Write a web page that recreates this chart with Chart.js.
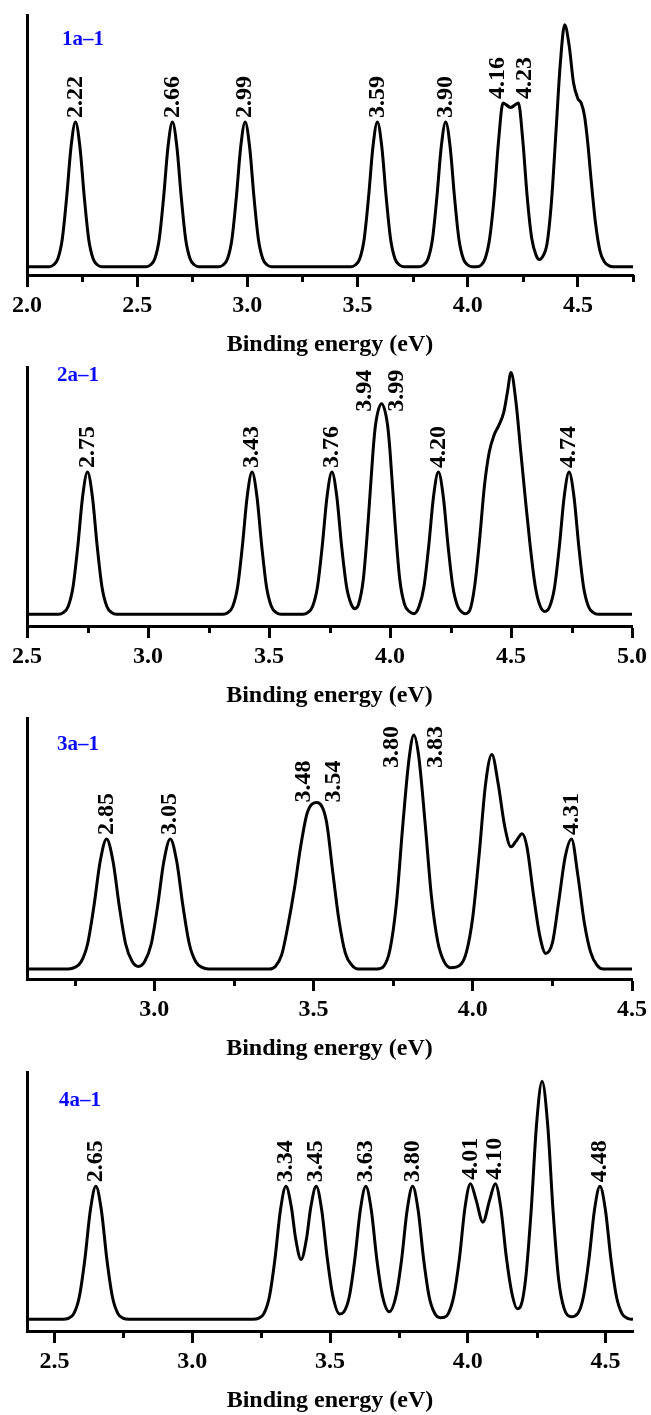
<!DOCTYPE html>
<html lang="en">

<head>
  <meta charset="UTF-8">
  <title>Simulated photoelectron spectra</title>
  <style>
    body {
      margin: 0;
      background: #ffffff;
      overflow: hidden;
    }

    .panel {
      position: absolute;
      left: 0;
      width: 651px;
    }
  </style>
</head>

<body>
  <div class="panel" style="top:5px;height:355px"><canvas id="spec1"></canvas></div>
  <div class="panel" style="top:357px;height:354px"><canvas id="spec2"></canvas></div>
  <div class="panel" style="top:708px;height:356px"><canvas id="spec3"></canvas></div>
  <div class="panel" style="top:1062px;height:354px"><canvas id="spec4"></canvas></div>

  <script src="https://cdn.jsdelivr.net/npm/chart.js"></script>
  <script>
    // ---- 1a-1 ----
    const range1 = [2.0, 4.75];
    const energy1 = [
      2.00, 2.10, 2.12, 2.14, 2.16, 2.18, 2.20, 2.22, 2.24, 2.26, 2.28, 2.30, 2.32, 2.34,
      2.54, 2.56, 2.58, 2.60, 2.62, 2.64, 2.66, 2.68, 2.70, 2.72, 2.74, 2.76, 2.78,
      2.87, 2.89, 2.91, 2.93, 2.95, 2.97, 2.99, 3.01, 3.03, 3.05, 3.07, 3.09, 3.11,
      3.47, 3.49, 3.51, 3.53, 3.55, 3.57, 3.59, 3.61, 3.63, 3.65, 3.67, 3.69, 3.71,
      3.78, 3.80, 3.82, 3.84, 3.86, 3.88, 3.90, 3.92, 3.94, 3.96, 3.98, 4.00, 4.02,
      4.04, 4.06, 4.08, 4.10, 4.12, 4.14, 4.16, 4.195, 4.23, 4.25, 4.27, 4.29, 4.31, 4.325,
      4.34, 4.36, 4.38, 4.40, 4.42, 4.44, 4.46, 4.48, 4.50, 4.515, 4.53, 4.545, 4.56, 4.58, 4.60, 4.62, 4.64, 4.66, 4.75
    ];
    const intensity1 = [
      0, 0, 0.012, 0.055, 0.19, 0.48, 0.83, 1.00, 0.83, 0.48, 0.19, 0.055, 0.012, 0,
      0, 0.012, 0.055, 0.19, 0.48, 0.83, 1.00, 0.83, 0.48, 0.19, 0.055, 0.012, 0,
      0, 0.012, 0.055, 0.19, 0.48, 0.83, 1.00, 0.83, 0.48, 0.19, 0.055, 0.012, 0,
      0, 0.012, 0.055, 0.19, 0.48, 0.83, 1.00, 0.83, 0.48, 0.19, 0.055, 0.012, 0,
      0, 0.012, 0.055, 0.19, 0.48, 0.83, 1.00, 0.83, 0.48, 0.19, 0.055, 0.012, 0,
      0, 0.01, 0.06, 0.20, 0.48, 0.87, 1.13, 1.10, 1.13, 0.87, 0.48, 0.20, 0.08, 0.05,
      0.07, 0.16, 0.45, 0.92, 1.40, 1.67, 1.53, 1.27, 1.16, 1.13, 1.04, 0.85, 0.60, 0.30, 0.11, 0.035, 0.008, 0, 0
    ];
    const peaks1 = ['2.22', '2.66', '2.99', '3.59', '3.90', '4.16', '4.23'];
    const peakTop1 = [1, 1, 1, 1, 1, 1.13, 1.13];

    // ---- 2a-1 ----
    const range2 = [2.5, 5.0];
    const energy2 = [
      2.50, 2.63, 2.65, 2.67, 2.69, 2.71, 2.73, 2.75, 2.77, 2.79, 2.81, 2.83, 2.85, 2.87,
      3.31, 3.33, 3.35, 3.37, 3.39, 3.41, 3.43, 3.45, 3.47, 3.49, 3.51, 3.53, 3.55,
      3.64, 3.66, 3.68, 3.70, 3.72, 3.74, 3.76, 3.78, 3.80, 3.82, 3.84, 3.855,
      3.87, 3.89, 3.91, 3.93, 3.94, 3.965, 3.99, 4.00, 4.02, 4.04, 4.06, 4.08, 4.10,
      4.12, 4.14, 4.16, 4.18, 4.20, 4.22, 4.24, 4.26, 4.28, 4.30, 4.31,
      4.33, 4.35, 4.37, 4.39, 4.41, 4.43, 4.45, 4.47, 4.485, 4.50, 4.52, 4.54, 4.56, 4.58, 4.60, 4.62, 4.64,
      4.66, 4.68, 4.70, 4.72, 4.74, 4.76, 4.78, 4.80, 4.82, 4.84, 4.86, 5.00
    ];
    const intensity2 = [
      0, 0, 0.012, 0.055, 0.19, 0.48, 0.83, 1.00, 0.83, 0.48, 0.19, 0.055, 0.012, 0,
      0, 0.012, 0.055, 0.19, 0.48, 0.83, 1.00, 0.83, 0.48, 0.19, 0.055, 0.012, 0,
      0, 0.012, 0.055, 0.19, 0.48, 0.83, 1.00, 0.83, 0.48, 0.20, 0.07, 0.04,
      0.07, 0.25, 0.66, 1.15, 1.33, 1.48, 1.33, 1.15, 0.66, 0.25, 0.07, 0.02, 0.005,
      0.055, 0.19, 0.48, 0.83, 1.00, 0.83, 0.48, 0.19, 0.055, 0.012, 0.005,
      0.03, 0.20, 0.52, 0.90, 1.14, 1.26, 1.33, 1.42, 1.56, 1.70, 1.50, 1.15, 0.80, 0.47, 0.20, 0.06, 0.02,
      0.055, 0.19, 0.48, 0.83, 1.00, 0.83, 0.48, 0.19, 0.055, 0.012, 0, 0
    ];
    const peaks2 = ['2.75', '3.43', '3.76', '3.94', '3.99', '4.20', '4.74'];
    const peakTop2 = [1, 1, 1, 1.48, 1.48, 1, 1];

    // ---- 3a-1 ----
    const range3 = [2.6, 4.5];
    const energy3 = [
      2.60, 2.73, 2.75, 2.77, 2.79, 2.81, 2.83, 2.85, 2.87, 2.89, 2.91, 2.93, 2.95,
      2.97, 2.99, 3.01, 3.03, 3.05, 3.07, 3.09, 3.11, 3.13, 3.15, 3.17,
      3.36, 3.38, 3.40, 3.42, 3.44, 3.46, 3.48, 3.51, 3.54, 3.56, 3.58, 3.60, 3.62, 3.64,
      3.70, 3.72, 3.74, 3.76, 3.78, 3.80, 3.815, 3.83, 3.85, 3.87, 3.89, 3.91, 3.93,
      3.96, 3.98, 4.00, 4.02, 4.04, 4.06, 4.08, 4.10, 4.12, 4.135, 4.155, 4.17, 4.19, 4.21, 4.229,
      4.25, 4.27, 4.29, 4.31, 4.33, 4.35, 4.37, 4.39, 4.41, 4.50
    ];
    const intensity3 = [
      0, 0, 0.012, 0.055, 0.19, 0.48, 0.83, 1.00, 0.83, 0.48, 0.19, 0.06, 0.02,
      0.06, 0.19, 0.48, 0.83, 1.00, 0.83, 0.48, 0.19, 0.055, 0.012, 0,
      0, 0.02, 0.11, 0.34, 0.62, 0.95, 1.20, 1.28, 1.14, 0.75, 0.37, 0.12, 0.03, 0,
      0, 0.02, 0.15, 0.50, 1.10, 1.62, 1.80, 1.64, 1.13, 0.56, 0.21, 0.056, 0.01,
      0.03, 0.13, 0.40, 0.88, 1.42, 1.65, 1.42, 1.10, 0.94, 0.98, 1.04, 0.94, 0.58, 0.26, 0.12,
      0.20, 0.52, 0.86, 1.00, 0.72, 0.36, 0.13, 0.03, 0, 0
    ];
    const peaks3 = ['2.85', '3.05', '3.48', '3.54', '3.80', '3.83', '4.31'];
    const peakTop3 = [1, 1, 1.28, 1.28, 1.80, 1.80, 1];

    // ---- 4a-1 ----
    const range4 = [2.4, 4.6];
    const energy4 = [
      2.40, 2.53, 2.55, 2.57, 2.59, 2.61, 2.63, 2.65, 2.67, 2.69, 2.71, 2.73, 2.75, 2.77,
      3.22, 3.24, 3.26, 3.28, 3.30, 3.32, 3.34, 3.36, 3.375, 3.395, 3.415, 3.43, 3.45, 3.47, 3.49, 3.51, 3.535,
      3.55, 3.57, 3.59, 3.61, 3.63, 3.65, 3.67, 3.69, 3.715,
      3.74, 3.76, 3.78, 3.80, 3.82, 3.84, 3.86, 3.88, 3.90, 3.915,
      3.93, 3.95, 3.97, 3.99, 4.01, 4.03, 4.055, 4.08, 4.10, 4.12, 4.14, 4.16, 4.18,
      4.19, 4.21, 4.23, 4.25, 4.27, 4.29, 4.31, 4.33, 4.35, 4.375,
      4.40, 4.42, 4.44, 4.46, 4.48, 4.50, 4.52, 4.54, 4.56, 4.58, 4.60
    ];
    const intensity4 = [
      0, 0, 0.007, 0.043, 0.17, 0.45, 0.82, 1.00, 0.82, 0.45, 0.17, 0.043, 0.007, 0,
      0, 0.007, 0.043, 0.17, 0.45, 0.82, 1.00, 0.84, 0.61, 0.45, 0.61, 0.84, 1.00, 0.82, 0.46, 0.18, 0.04,
      0.055, 0.17, 0.45, 0.82, 1.00, 0.82, 0.45, 0.18, 0.057,
      0.18, 0.45, 0.82, 1.00, 0.82, 0.45, 0.17, 0.045, 0.012, 0.015,
      0.045, 0.18, 0.46, 0.84, 1.02, 0.90, 0.73, 0.90, 1.02, 0.84, 0.47, 0.20, 0.08,
      0.09, 0.30, 0.81, 1.47, 1.79, 1.47, 0.81, 0.30, 0.08, 0.02,
      0.045, 0.17, 0.45, 0.82, 1.00, 0.82, 0.45, 0.17, 0.043, 0.007, 0
    ];
    const peaks4 = ['2.65', '3.34', '3.45', '3.63', '3.80', '4.01', '4.10', '4.48'];
    const peakTop4 = [1, 1, 1, 1, 1, 1.02, 1.02, 1];

    const FAMILY = '"Liberation Serif", "Times New Roman", serif';
    const axisFont = { family: FAMILY, size: 24, weight: 'bold' };

    // minor ticks, panel name and rotated peak labels
    function decor(cfg) {
      return {
        id: 'decor',
        afterDatasetsDraw(chart) {
          const { ctx, chartArea, scales: { x, y } } = chart;
          ctx.save();

          ctx.strokeStyle = '#000';
          ctx.lineWidth = 3;
          ctx.beginPath();
          for (let k = Math.ceil(x.min * 4 - 1e-9); k <= Math.floor(x.max * 4 + 1e-9); k++) {
            if (k % 2 === 0) continue;
            const px = Math.round(x.getPixelForValue(k / 4)) + 0.5;
            ctx.moveTo(px, chartArea.bottom);
            ctx.lineTo(px, chartArea.bottom + 7);
          }
          ctx.stroke();

          ctx.textAlign = 'left';
          ctx.textBaseline = 'middle';
          ctx.fillStyle = '#0a0aff';
          ctx.font = 'bold 21px ' + FAMILY;
          ctx.fillText(cfg.name, chartArea.left + cfg.namePos[0], chartArea.top + cfg.namePos[1]);

          ctx.fillStyle = '#000';
          ctx.font = 'bold 24px ' + FAMILY;
          cfg.peaks.forEach((lab, i) => {
            const [dx, dy] = cfg.nudge[lab] || [0, 0];
            const px = x.getPixelForValue(parseFloat(lab)) + dx;
            const py = y.getPixelForValue(cfg.peakTop[i]) - 4 + dy;
            ctx.save();
            ctx.translate(px, py);
            ctx.rotate(-Math.PI / 2);
            ctx.fillText(lab, 0, 0);
            ctx.restore();
          });

          ctx.restore();
        }
      };
    }

    function makePanel(cfg) {
      return new Chart(document.getElementById(cfg.canvas), {
        type: 'line',
        data: {
          datasets: [{
            data: cfg.energy.map((e, i) => ({ x: e, y: cfg.intensity[i] })),
            borderColor: '#000',
            borderWidth: 3,
            pointRadius: 0,
            cubicInterpolationMode: 'monotone',
            fill: false
          }]
        },
        options: {
          responsive: true,
          maintainAspectRatio: false,
          animation: false,
          layout: { padding: { left: 27, right: 18, top: 10, bottom: 0 } },
          plugins: { legend: { display: false }, tooltip: { enabled: false } },
          scales: {
            x: {
              type: 'linear',
              min: cfg.xRange[0],
              max: cfg.xRange[1],
              // labelled ticks on every 0.5 eV inside the range
              afterBuildTicks: s => {
                const ticks = [];
                for (let k = Math.ceil(s.min * 2 - 1e-9); k <= Math.floor(s.max * 2 + 1e-9); k++) {
                  ticks.push({ value: k / 2 });
                }
                s.ticks = ticks;
              },
              afterFit: s => { s.height = 85; },
              ticks: {
                autoSkip: false,
                maxRotation: 0,
                padding: 4,
                color: '#000',
                font: axisFont,
                callback: v => Number(v).toFixed(1)
              },
              grid: {
                display: true,
                drawOnChartArea: false,
                drawTicks: true,
                tickLength: 12,
                tickWidth: 3,
                tickColor: '#000'
              },
              border: { display: true, width: 3, color: '#000' },
              title: {
                display: true,
                text: 'Binding energy (eV)',
                color: '#000',
                font: axisFont,
                padding: { top: 0, bottom: 1 }
              }
            },
            y: {
              min: cfg.yRange[0],
              max: cfg.yRange[1],
              afterFit: s => { s.width = 0; },
              ticks: { display: false },
              grid: { display: false, drawTicks: false },
              border: { display: true, width: 3, color: '#000' }
            }
          }
        },
        plugins: [decor(cfg)]
      });
    }

    makePanel({
      canvas: 'spec1', energy: energy1, intensity: intensity1, xRange: range1, yRange: [-0.057, 1.738],
      name: '1a\u20131', namePos: [35, 25], peaks: peaks1, peakTop: peakTop1,
      nudge: { '4.16': [-5.5, 0], '4.23': [6, 0] }
    });
    makePanel({
      canvas: 'spec2', energy: energy2, intensity: intensity2, xRange: range2, yRange: [-0.082, 1.739],
      name: '2a\u20131', namePos: [30, 9], peaks: peaks2, peakTop: peakTop2,
      nudge: { '3.94': [-10.5, 12], '3.99': [9, 12] }
    });
    makePanel({
      canvas: 'spec3', energy: energy3, intensity: intensity3, xRange: range3, yRange: [-0.077, 1.93],
      name: '3a\u20131', namePos: [30, 26.5], peaks: peaks3, peakTop: peakTop3,
      nudge: { '3.48': [-3.6, 4], '3.54': [7, 4], '3.80': [-17, 37], '3.83': [17.4, 37] }
    });
    makePanel({
      canvas: 'spec4', energy: energy4, intensity: intensity4, xRange: range4, yRange: [-0.088, 1.86],
      name: '4a\u20131', namePos: [32, 29], peaks: peaks4, peakTop: peakTop4,
      nudge: {}
    });
  </script>
</body>

</html>
